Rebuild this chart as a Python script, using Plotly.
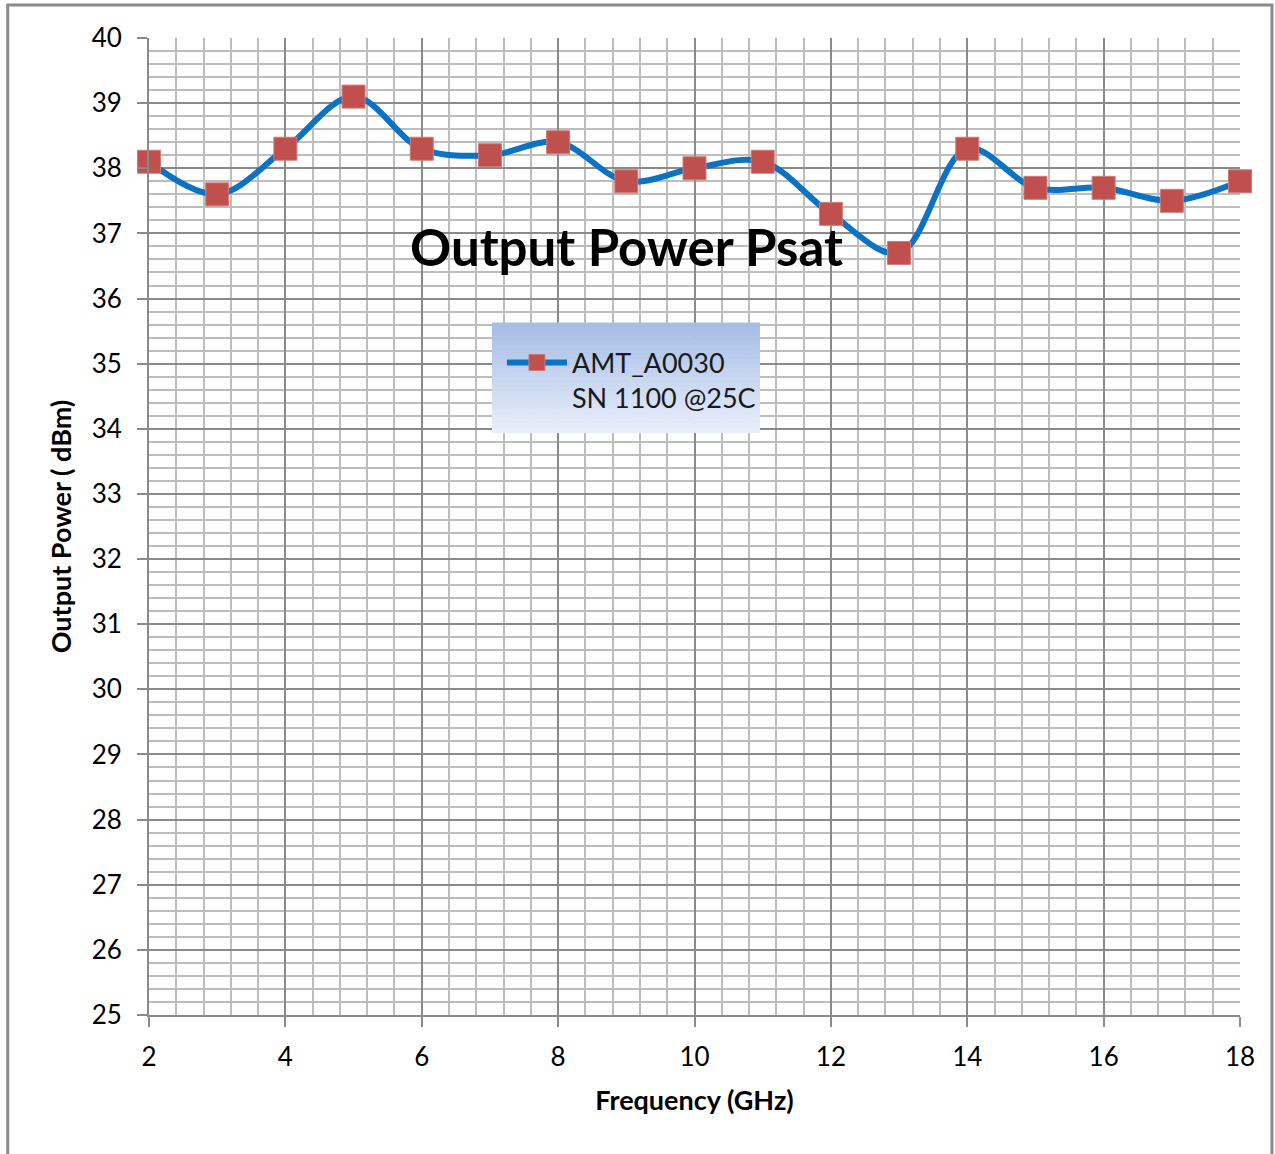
import plotly.graph_objects as go

freq_ghz = [2, 3, 4, 5, 6, 7, 8, 9, 10, 11, 12, 13, 14, 15, 16, 17, 18]
psat_dbm = [38.1, 37.6, 38.3, 39.1, 38.3, 38.2, 38.4, 37.8, 38.0, 38.1, 37.3, 36.7, 38.3, 37.7, 37.7, 37.5, 37.8]
series_name = "AMT_A0030<br>SN 1100 @25C"
chart_title = "Output Power Psat"
x_title = "Frequency (GHz)"
y_title = "Output Power ( dBm)"

FONT = "Lato, 'Open Sans', sans-serif"

fig = go.Figure()
fig.add_trace(go.Scatter(
    x=freq_ghz, y=psat_dbm, name=series_name, mode="lines+markers",
    line=dict(color="#0B72C4", width=6, shape="spline", smoothing=1.0),
    marker=dict(symbol="square", size=23, color="#C0504D", line=dict(color="#D27A77", width=1)),
    cliponaxis=False,
))

# legend background gradient (stacked bands)
x0, x1 = 0.3144, 0.560
ytop, ybot = 0.7083, 0.5957
n = 24
top_c = (166, 189, 230)
bot_c = (232, 238, 250)
for i in range(n):
    t = i / (n - 1)
    c = tuple(int(round(top_c[k] + (bot_c[k] - top_c[k]) * t)) for k in range(3))
    ya = ytop - (ytop - ybot) * i / n
    yb = ytop - (ytop - ybot) * (i + 1) / n
    fig.add_shape(type="rect", xref="paper", yref="paper", x0=x0, x1=x1, y0=yb, y1=ya + 0.0005,
                  fillcolor="rgb(%d,%d,%d)" % c, line=dict(width=0), layer="above")

# outer frame
fig.add_shape(type="rect", xref="paper", yref="paper", x0=-0.1295, x1=1.0293, y0=-0.16, y1=1.0338,
              line=dict(color="#8A8A8A", width=3), fillcolor="rgba(0,0,0,0)", layer="below")

fig.add_annotation(text="<b>" + chart_title + "</b>", xref="paper", yref="paper",
                   x=0.438, y=0.787, xanchor="center", yanchor="middle", showarrow=False,
                   font=dict(family=FONT, size=51, color="black"))

fig.update_layout(
    width=1275, height=1154,
    margin=dict(l=149, r=35, t=38, b=139),
    paper_bgcolor="white", plot_bgcolor="white",
    font=dict(family=FONT, size=26, color="black"),
    showlegend=True,
    legend=dict(x=0.3235, y=0.6925, xanchor="left", yanchor="top", bgcolor="rgba(0,0,0,0)",
                font=dict(family=FONT, size=27, color="#1a1a1a"), itemwidth=60,
                valign="top", tracegroupgap=0),
    xaxis=dict(range=[2, 18], dtick=2, tick0=2, showgrid=True, gridcolor="#8A8A8A", gridwidth=2,
               minor=dict(dtick=0.4, showgrid=True, gridcolor="#BDBDBD", gridwidth=2),
               ticks="outside", ticklen=10, tickwidth=2, tickcolor="#8A8A8A",
               showline=True, linecolor="#8A8A8A", linewidth=2, zeroline=False,
               ticklabelstandoff=8,
               title=dict(text="<b>" + x_title + "</b>", font=dict(size=27), standoff=20)),
    yaxis=dict(range=[25, 40], dtick=1, showgrid=True, gridcolor="#8A8A8A", gridwidth=2,
               minor=dict(dtick=0.2, showgrid=True, gridcolor="#BDBDBD", gridwidth=2),
               ticks="outside", ticklen=10, tickwidth=2, tickcolor="#8A8A8A",
               showline=True, linecolor="#8A8A8A", linewidth=2, zeroline=False,
               ticklabelstandoff=10,
               title=dict(text="<b>" + y_title + "</b>", font=dict(size=27), standoff=12)),
)

fig.write_html("out.html", config={"displayModeBar": False},
               post_script="document.body.style.margin='0px';")
